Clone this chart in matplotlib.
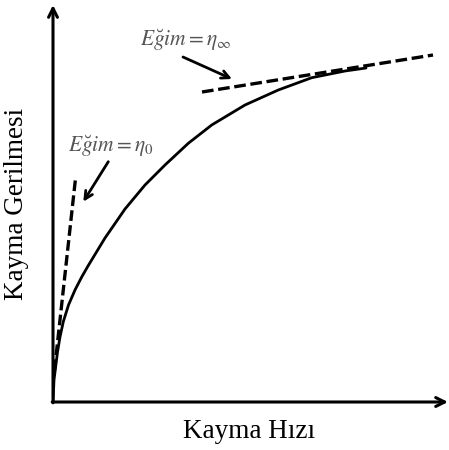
import matplotlib
matplotlib.use("Agg")
import matplotlib.pyplot as plt

# Flow curve (shear rate vs shear stress)
shear_rate = [0, 0.025, 0.1125, 0.175, 0.2575, 0.3875, 0.55, 0.7175, 0.875,
              1.0875, 1.3, 1.8, 2.3, 2.8, 3.3825, 3.9675, 4.8, 5.6325,
              6.4675, 7.3, 7.825]
shear_stress = [0, 0.55, 1.25, 1.625, 2.0075, 2.425, 2.8, 3.125, 3.4,
                3.75, 4.1, 4.825, 5.425, 5.925, 6.4675, 6.925, 7.425, 7.8,
                8.1075, 8.275, 8.35]

# tangent lines
eta0_x = [0.0375, 0.5675]
eta0_y = [0.8, 5.633]
etainf_x = [3.725, 9.5]
etainf_y = [7.75, 8.675]

x_label = "Kayma Hızı"
y_label = "Kayma Gerilmesi"
label_eta0 = r"$E\breve{g}im=\eta_{0}$"
label_etainf = r"$E\breve{g}im=\eta_{\infty}$"

plt.rcParams['mathtext.fontset'] = 'stix'

fig = plt.figure(figsize=(4.49, 4.50), dpi=100)
ax = fig.add_axes([53/449, 48/450, 396/449, 400/450])
ax.set_xlim(0, 9.9)
ax.set_ylim(0, 10.0)
ax.axis('off')

# axes with arrows
ax.annotate('', xy=(9.875, 0), xytext=(-0.02, 0),
            arrowprops=dict(arrowstyle='->', lw=2.2, color='black',
                            mutation_scale=16, shrinkA=0, shrinkB=0),
            annotation_clip=False)
ax.annotate('', xy=(0, 9.925), xytext=(0, -0.02),
            arrowprops=dict(arrowstyle='->', lw=2.2, color='black',
                            mutation_scale=16, shrinkA=0, shrinkB=0),
            annotation_clip=False)

ax.plot(shear_rate, shear_stress, color='black', lw=2.0,
        solid_capstyle='round', solid_joinstyle='round')
ax.plot(eta0_x, eta0_y, color='black', lw=2.4, dashes=(3.2, 1.3))
ax.plot(etainf_x, etainf_y, color='black', lw=2.4, dashes=(3.5, 1.4))

# annotation arrows
ax.annotate('', xy=(0.7575, 5.0075), xytext=(1.3825, 6.0075),
            arrowprops=dict(arrowstyle='->', lw=2.0, color='black',
                            mutation_scale=14, shrinkA=0, shrinkB=0))
ax.annotate('', xy=(4.475, 8.075), xytext=(3.25, 8.625),
            arrowprops=dict(arrowstyle='->', lw=2.0, color='black',
                            mutation_scale=14, shrinkA=0, shrinkB=0))

ax.text(1.445, 6.4, label_eta0, ha='center', va='center', fontsize=15.5,
        color='#555555')
ax.text(3.325, 9.05, label_etainf, ha='center', va='center', fontsize=15.5,
        color='#555555')

fig.text(249/449, 1 - 431/450, x_label, ha='center', va='center',
         fontsize=19.5, family='Liberation Serif')
fig.text(17/449, 1 - 204/450, y_label, ha='center', va='center',
         rotation=90, fontsize=19.5, family='Liberation Serif')

fig.savefig('out.png', dpi=100, facecolor='white')
